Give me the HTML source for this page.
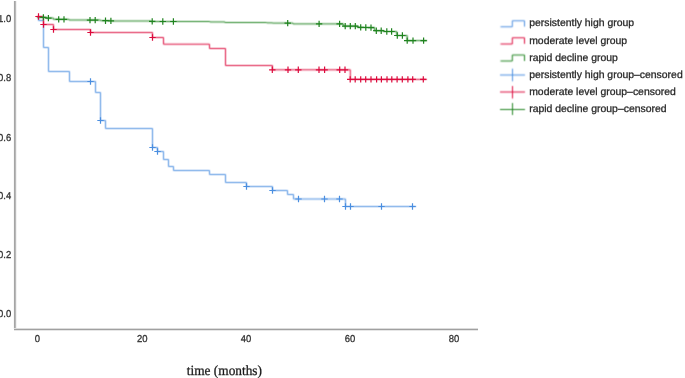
<!DOCTYPE html>
<html><head><meta charset="utf-8"><style>
html,body{margin:0;padding:0;background:#fff;}
body{width:685px;height:378px;overflow:hidden;position:relative;}
svg{position:absolute;left:0;top:0;will-change:transform;}
text{font-family:"Liberation Sans",sans-serif;text-rendering:geometricPrecision;}
</style></head><body>
<svg width="685" height="378" viewBox="0 0 685 378">
<defs><filter id="bl" filterUnits="userSpaceOnUse" x="0" y="0" width="685" height="378" color-interpolation-filters="sRGB"><feConvolveMatrix order="3" kernelMatrix="1 3 1 3 9 3 1 3 1" divisor="25" edgeMode="none"/></filter></defs>
<rect width="685" height="378" fill="#fff"/>
<rect x="13" y="1" width="1" height="328" fill="#f8f8f8"/>
<rect x="14" y="1" width="1" height="328" fill="#a5a5a5"/>
<rect x="15" y="1" width="1" height="328" fill="#b9b9b9"/>
<rect x="16" y="1" width="1" height="327" fill="#f2f2f2"/>
<rect x="14" y="328" width="464" height="1" fill="#dcdcdc"/>
<rect x="14" y="329" width="464" height="1" fill="#a0a0a0"/>
<rect x="14" y="330" width="464" height="1" fill="#e6e6e6"/>
<g font-size="10" fill="#333" stroke="#333" stroke-width="0.3" text-anchor="end">
<text x="11.2" y="21.9" transform="translate(11.2 0) scale(0.945 1) translate(-11.2 0)">1.0</text>
<text x="11.2" y="80.9" transform="translate(11.2 0) scale(0.945 1) translate(-11.2 0)">0.8</text>
<text x="11.2" y="140.6" transform="translate(11.2 0) scale(0.945 1) translate(-11.2 0)">0.6</text>
<text x="11.2" y="199.1" transform="translate(11.2 0) scale(0.945 1) translate(-11.2 0)">0.4</text>
<text x="11.2" y="258.1" transform="translate(11.2 0) scale(0.945 1) translate(-11.2 0)">0.2</text>
<text x="11.2" y="316.9" transform="translate(11.2 0) scale(0.945 1) translate(-11.2 0)">0.0</text>
</g>
<g font-size="10" fill="#333" stroke="#333" stroke-width="0.3" text-anchor="middle">
<text x="37.5" y="342.3" transform="translate(37.5 0) scale(0.945 1) translate(-37.5 0)">0</text>
<text x="142.3" y="342.3" transform="translate(142.3 0) scale(0.945 1) translate(-142.3 0)">20</text>
<text x="246.1" y="342.3" transform="translate(246.1 0) scale(0.945 1) translate(-246.1 0)">40</text>
<text x="350.0" y="342.3" transform="translate(350.0 0) scale(0.945 1) translate(-350.0 0)">60</text>
<text x="454.0" y="342.3" transform="translate(454.0 0) scale(0.945 1) translate(-454.0 0)">80</text>
</g>
<text x="186.8" y="374.7" font-size="14" fill="#111" stroke="#333" stroke-width="0.3" style="font-family:'Liberation Serif',serif" textLength="75.2" lengthAdjust="spacingAndGlyphs">time (months)</text>
<g filter="url(#bl)">
<g fill="none" stroke-width="1.0" stroke-linejoin="miter" stroke-linecap="square">
<path stroke="#4a8ee0" d="M37.5 16.5 H38.5 V20.5 H43.5 V47.5 H48.5 V71.5 H69.5 V81.5 H95.5 V92.5 H100.5 V120.5 H105.5 V128.5 H152.5 V147.5 H157.5 V151.5 H163.5 V159.5 H168.5 V166.5 H173.5 V170.5 H209.5 V174.5 H225.5 V182.5 H246.5 V186.5 H272.5 V190.5 H287.5 V194.5 H293.5 V199.0 H345.5 V206.5 H415.5"/>
<path stroke="#dc0a3c" d="M37.5 16.5 H43.5 V24.5 H53.5 V29.5 H90.5 V32.5 H152.5 V37.5 H163.5 V44.2 H209.5 V48.5 H225.5 V65.5 H272.5 V69.8 H350.3 V79.4 H426"/>
<path stroke="#1f831f" d="M37.5 17.4 H46 V18 H53.4 V19.3 H69 V20 H100.5 V20.7 H111 V21.0 H151 V21.5 H209.8 V21.95 H224.9 V22.5 H266.7 V22.85 H272.5 V23.1 H293 V23.9 H343.5 V26.1 H357.5 V27.4 H374.5 V30.7 H383.5 V31.5 H396.8 V35.5 H407.2 V40.6 H426.5"/>
</g>
<g fill="none" stroke-width="1.0">
<path stroke="#4a8ee0" d="M500.5 26.8 H512.3 V20.8 H524.5 V26.6"/>
<path stroke="#dc0a3c" d="M500.5 44 H512.3 V37.8 H524.5 V43.8"/>
<path stroke="#1f831f" d="M500.5 61 H512.3 V55 H524.5 V61"/>
<path stroke="#4a8ee0" d="M500 75 H525 M512.5 68.7 V81.3"/>
<path stroke="#dc0a3c" d="M500 92 H525 M512.5 86 V98.5"/>
<path stroke="#1f831f" d="M500 109.5 H525 M512.5 103 V115"/>
</g>
</g>
<g fill="none" stroke-width="1.2">
<path stroke="#4a8ee0" d="M87.3 81.5h6.4 M90.5 78.3v6.4 M97.3 120.5h6.4 M100.5 117.3v6.4 M149.3 147.5h6.4 M152.5 144.3v6.4 M154.3 151.5h6.4 M157.5 148.3v6.4 M243.3 186.5h6.4 M246.5 183.3v6.4 M269.3 190.5h6.4 M272.5 187.3v6.4 M295.3 199h6.4 M298.5 195.8v6.4 M321.3 199h6.4 M324.5 195.8v6.4 M336.3 199h6.4 M339.5 195.8v6.4 M342.3 206.5h6.4 M345.5 203.3v6.4 M347.3 206.5h6.4 M350.5 203.3v6.4 M378.3 206.5h6.4 M381.5 203.3v6.4 M409.3 206.5h6.4 M412.5 203.3v6.4"/>
<path stroke="#dc0a3c" d="M35.3 16.5h6.4 M38.5 13.3v6.4 M40.3 24.5h6.4 M43.5 21.3v6.4 M50.3 29.5h6.4 M53.5 26.3v6.4 M87.3 32.5h6.4 M90.5 29.3v6.4 M149.3 37.5h6.4 M152.5 34.3v6.4 M269.1 69.8h6.4 M272.3 66.6v6.4 M284.8 69.8h6.4 M288 66.6v6.4 M295.1 69.8h6.4 M298.3 66.6v6.4 M315.8 69.8h6.4 M319 66.6v6.4 M321.4 69.8h6.4 M324.6 66.6v6.4 M336.5 69.8h6.4 M339.7 66.6v6.4 M341.8 69.8h6.4 M345.0 66.6v6.4 M347.0 79.4h6.4 M350.2 76.2v6.4 M352.0 79.4h6.4 M355.2 76.2v6.4 M357.5 79.4h6.4 M360.7 76.2v6.4 M362.5 79.4h6.4 M365.7 76.2v6.4 M367.8 79.4h6.4 M371 76.2v6.4 M373.4 79.4h6.4 M376.6 76.2v6.4 M378.2 79.4h6.4 M381.4 76.2v6.4 M383.8 79.4h6.4 M387 76.2v6.4 M388.6 79.4h6.4 M391.8 76.2v6.4 M393.9 79.4h6.4 M397.1 76.2v6.4 M399.1 79.4h6.4 M402.3 76.2v6.4 M404.7 79.4h6.4 M407.9 76.2v6.4 M409.5 79.4h6.4 M412.7 76.2v6.4 M420.1 79.4h6.4 M423.3 76.2v6.4"/>
<path stroke="#1f831f" d="M40.2 17.4h6.4 M43.4 14.2v6.4 M45.2 18.1h6.4 M48.4 14.9v6.4 M55.5 19.4h6.4 M58.7 16.2v6.4 M60.8 19.4h6.4 M64.0 16.2v6.4 M86.8 20.1h6.4 M90 16.9v6.4 M92.0 20.1h6.4 M95.2 16.9v6.4 M102.3 20.7h6.4 M105.5 17.5v6.4 M107.7 20.9h6.4 M110.9 17.7v6.4 M149.0 21.4h6.4 M152.2 18.2v6.4 M159.6 21.5h6.4 M162.8 18.3v6.4 M170.2 21.5h6.4 M173.4 18.3v6.4 M284.5 23.1h6.4 M287.7 19.9v6.4 M315.9 23.9h6.4 M319.1 20.7v6.4 M336.4 23.9h6.4 M339.6 20.7v6.4 M342.0 26.1h6.4 M345.2 22.9v6.4 M347.1 26.1h6.4 M350.3 22.9v6.4 M352.1 26.1h6.4 M355.3 22.9v6.4 M357.5 27.4h6.4 M360.7 24.2v6.4 M362.6 27.5h6.4 M365.8 24.3v6.4 M367.8 27.6h6.4 M371 24.4v6.4 M373.1 30.7h6.4 M376.3 27.5v6.4 M378.0 30.7h6.4 M381.2 27.5v6.4 M383.6 31.5h6.4 M386.8 28.3v6.4 M388.4 31.5h6.4 M391.6 28.3v6.4 M394.1 35.5h6.4 M397.3 32.3v6.4 M399.2 35.5h6.4 M402.4 32.3v6.4 M404.0 40.6h6.4 M407.2 37.4v6.4 M409.8 40.6h6.4 M413 37.4v6.4 M420.4 40.6h6.4 M423.6 37.4v6.4"/>
</g>
<g font-size="10.4" fill="#1c1c1c" stroke="#333" stroke-width="0.3">
<text x="529.2" y="26.4" textLength="104.9" lengthAdjust="spacingAndGlyphs">persistently high group</text>
<text x="529.2" y="43.5" textLength="97.9" lengthAdjust="spacingAndGlyphs">moderate level group</text>
<text x="529.2" y="60.6" textLength="88.6" lengthAdjust="spacingAndGlyphs">rapid decline group</text>
<text x="529.2" y="77.7" textLength="153.5" lengthAdjust="spacingAndGlyphs">persistently high group–censored</text>
<text x="529.2" y="94.8" textLength="146.6" lengthAdjust="spacingAndGlyphs">moderate level group–censored</text>
<text x="529.2" y="111.9" textLength="137.4" lengthAdjust="spacingAndGlyphs">rapid decline group–censored</text>
</g>
</svg>
</body></html>
